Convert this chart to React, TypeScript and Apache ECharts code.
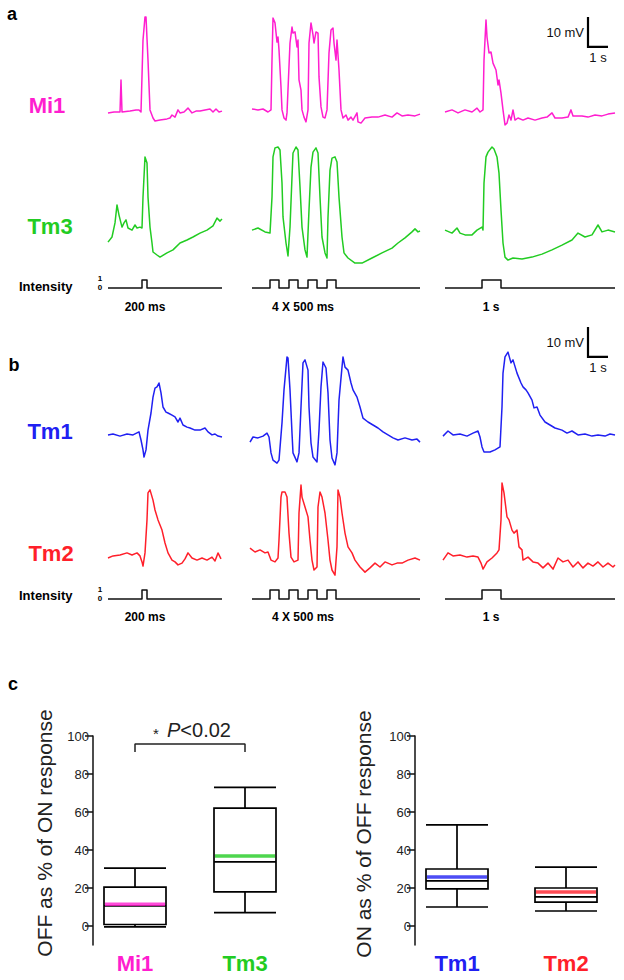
import { useEffect, useRef } from 'react';
import * as echarts from 'echarts';

// ---------- Panel a / b traces: [time (s), membrane potential (mV, relative)] ----------
const mi1_200ms = [[0,-0.3],[0.3,0],[0.6,0],[0.65,10.7],[0.7,0],[1.1,0.3],[1.4,0.7],[1.55,0.7],[1.65,0],[1.75,24],[1.85,31.7],[1.9,31.7],[2.0,17.3],[2.1,0.7],[2.25,-2],[2.35,-3],[2.6,-2.7],[2.95,-2.3],[3.1,-2],[3.2,-1],[3.35,-1.7],[3.5,0.7],[3.6,-0.3],[3.8,0],[4.0,1.3],[4.2,-0.3],[4.4,0.3],[4.6,0.3],[4.85,0.7],[5.1,1],[5.25,0],[5.4,1],[5.55,0],[5.7,0.3]];
const mi1_4x500 = [[0,1],[0.3,0.7],[0.55,1],[0.8,0],[0.95,0.7],[1.0,17.3],[1.05,31.3],[1.15,29.7],[1.25,23.3],[1.3,25],[1.35,20.7],[1.45,8.3],[1.5,0.7],[1.6,-2],[1.7,-2.7],[1.75,-0.3],[1.9,23],[2.0,28.3],[2.05,26.3],[2.15,26.7],[2.25,21.7],[2.3,24],[2.35,10.7],[2.45,7.3],[2.5,0.7],[2.6,-1.7],[2.7,-3.3],[2.8,0.7],[2.85,23],[2.95,29.7],[3.05,25.7],[3.1,23],[3.2,26.7],[3.3,26.3],[3.35,11.7],[3.45,1.7],[3.55,-1.7],[3.65,-2],[3.75,0.7],[3.85,19.7],[3.95,27.3],[4.05,28],[4.1,23],[4.2,17.3],[4.25,24],[4.35,14],[4.45,0.7],[4.55,-2],[4.7,-1],[4.8,-2.7],[4.95,-1.7],[5.05,-2.7],[5.25,-0.3],[5.3,-3.3],[5.45,-3.7],[5.65,-2],[6.0,-1.7],[6.3,-1.7],[6.65,-1],[7.0,-1.7],[7.25,-0.3],[7.5,-1.3],[7.8,-1],[8.15,-1.3],[8.4,-0.7]];
const mi1_1s = [[0,0],[0.35,0.7],[0.65,-0.3],[1.0,0.7],[1.35,0],[1.6,1.3],[1.75,0],[1.9,0.7],[1.95,17.3],[2.05,30.7],[2.1,25],[2.2,19.7],[2.3,20],[2.4,16.3],[2.55,14],[2.65,9],[2.7,10.7],[2.8,6.3],[2.9,0.7],[3.0,-4.3],[3.1,-3.7],[3.2,-1],[3.3,-2.7],[3.4,0.7],[3.5,-2.7],[3.65,-2],[3.9,-2.7],[4.15,-2],[4.5,-2.7],[4.85,-2],[5.1,-1.7],[5.35,-0.3],[5.5,-2],[5.85,-2],[6.15,-1.7],[6.3,0.7],[6.4,-1.3],[6.85,-1.3],[7.15,-1.7],[7.5,-1],[7.85,-1.3],[8.15,-0.7],[8.5,-0.3]];

const tm3_200ms = [[0,-4.7],[0.2,-3],[0.35,1.7],[0.45,7.7],[0.55,4.3],[0.7,0.3],[0.8,1.7],[0.9,2.7],[1.0,0],[1.2,-0.7],[1.35,1],[1.45,0],[1.6,0.3],[1.7,0],[1.75,10.3],[1.85,23.7],[1.95,21.7],[2.0,10.3],[2.1,0.3],[2.2,-5],[2.25,-8],[2.45,-9],[2.6,-9.7],[2.95,-8.3],[3.25,-7.3],[3.6,-5],[3.95,-4],[4.25,-3],[4.6,-1.7],[4.95,-0.7],[5.25,0.7],[5.45,3.3],[5.6,2.3],[5.7,3]];
const tm3_4x500 = [[0,-0.7],[0.3,0],[0.65,-1.3],[0.9,-1.7],[1.0,10.3],[1.05,23.7],[1.15,26.7],[1.3,27],[1.4,26],[1.5,15],[1.55,3.7],[1.7,-5],[1.8,-9.3],[1.9,0.3],[2.0,17],[2.05,25],[2.2,27],[2.3,26],[2.4,13.7],[2.5,0.3],[2.65,-7.3],[2.75,-9.7],[2.85,6],[2.95,20.3],[3.05,25.3],[3.2,26.7],[3.3,25],[3.4,10.3],[3.5,-3],[3.65,-8.3],[3.75,-10],[3.8,3.7],[3.9,19.3],[4.0,23.3],[4.15,23.7],[4.25,22],[4.35,10.3],[4.5,-3],[4.6,-8.3],[4.8,-10],[5.15,-11.7],[5.5,-11.7],[6.0,-10],[6.5,-8.3],[7.0,-6.7],[7.3,-5],[7.65,-3.3],[8.0,-1.3],[8.15,-0.3],[8.3,-1.3],[8.4,-1]];
const tm3_1s = [[0,-0.7],[0.35,-1.7],[0.6,0],[0.75,-1.7],[1.0,-2.3],[1.35,-2.3],[1.6,-0.7],[1.85,0.3],[1.9,-0.7],[1.95,15],[2.05,23.7],[2.15,25.3],[2.35,27],[2.45,26.3],[2.6,23.7],[2.7,18.3],[2.8,6],[2.9,-5],[3.0,-9.7],[3.15,-10.7],[3.4,-10],[3.85,-10.3],[4.35,-9.7],[4.85,-8.7],[5.35,-7.3],[5.85,-5.7],[6.35,-4],[6.65,-1.7],[7.0,-3],[7.35,-2.3],[7.65,1],[7.85,-1.3],[8.15,-0.7],[8.5,-1.3]];

const tm1_200ms = [[0,-0.3],[0.25,0],[0.6,-0.7],[0.95,0],[1.25,-0.3],[1.55,0.7],[1.65,-2],[1.75,-5.3],[1.8,-7.7],[1.9,-5.3],[2.0,1.3],[2.15,7],[2.25,12.3],[2.35,15.3],[2.45,15.7],[2.55,17],[2.65,13.7],[2.75,9],[2.9,7.3],[3.0,7],[3.2,6.3],[3.35,5.7],[3.5,4],[3.6,5.3],[3.75,3],[3.95,2.3],[4.1,2],[4.35,1.3],[4.6,1.3],[4.85,2],[5.0,0.7],[5.2,-0.3],[5.35,0],[5.5,-0.7],[5.7,-1]];
const tm1_4x500 = [[-0.1,-2.7],[0.05,-1],[0.3,-1.3],[0.55,-0.7],[0.75,0.3],[0.85,-1],[0.95,-6.3],[1.05,-8.7],[1.25,-9.7],[1.35,-8.7],[1.5,3.7],[1.6,14.7],[1.75,25.7],[1.8,25.3],[1.9,14.7],[2.0,0.3],[2.05,-6.3],[2.25,-9.3],[2.35,-6.3],[2.45,9],[2.55,23.7],[2.65,24.7],[2.8,21.3],[2.85,9],[2.95,-3],[3.05,-7.7],[3.25,-9.3],[3.35,1.3],[3.45,15.7],[3.55,24],[3.7,22],[3.8,13.7],[3.9,-2],[4.0,-8],[4.15,-10.3],[4.25,-6.3],[4.35,11.3],[4.5,22.3],[4.55,25.7],[4.65,22.3],[4.8,21.3],[4.95,17],[5.05,14.7],[5.25,12.3],[5.4,9],[5.55,5.3],[5.8,4],[6.05,3],[6.3,2],[6.55,0.7],[6.8,-0.3],[7.05,-1.3],[7.3,-2],[7.65,-1.3],[8.0,-2],[8.25,-1.7],[8.4,-2.7]];
const tm1_1s = [[-0.1,-0.7],[0.15,1],[0.4,-0.3],[0.75,0],[1.1,-0.7],[1.4,0.3],[1.65,1],[1.75,-1],[1.85,-4.3],[1.95,-6],[2.25,-6],[2.5,-5.3],[2.75,-4.3],[2.85,9],[2.9,20.3],[3.0,25.7],[3.15,27.3],[3.3,23.7],[3.4,24.7],[3.6,20.3],[3.8,17],[3.9,15.7],[4.05,14.7],[4.15,13.7],[4.35,11.3],[4.45,8.7],[4.6,9],[4.75,6.3],[5.0,4],[5.25,3],[5.5,2],[5.85,1.3],[6.1,0.3],[6.35,1],[6.65,-0.3],[7.0,0],[7.35,-0.7],[7.65,-0.3],[8.0,-0.7],[8.25,0],[8.5,-0.3]];

const tm2_200ms = [[0,-1],[0.25,-0.3],[0.6,0],[0.95,0.7],[1.2,0],[1.45,0.7],[1.6,-0.3],[1.7,-2.3],[1.75,-3.7],[1.85,0.7],[1.95,11.7],[2.0,20.7],[2.1,21.7],[2.25,18.3],[2.35,15],[2.5,11.7],[2.7,8.3],[2.85,4],[3.0,0.7],[3.2,-1.7],[3.35,-2.3],[3.5,-3.3],[3.7,-2.7],[3.85,-1.3],[4.0,0.7],[4.2,-1],[4.45,-1.7],[4.7,-1],[4.95,-1.7],[5.2,-0.7],[5.35,-2],[5.5,0.7],[5.65,-1.3]];
const tm2_4x500 = [[-0.1,2.3],[0.15,1],[0.4,1.7],[0.65,0.7],[0.8,1],[0.95,-1.7],[1.15,-2.3],[1.3,-1],[1.35,5],[1.45,19.3],[1.5,21],[1.65,21],[1.75,19.3],[1.85,7.3],[1.95,-0.7],[2.1,-2.3],[2.3,-1.7],[2.35,14],[2.45,23.3],[2.5,19.3],[2.65,16],[2.8,12.7],[2.9,5],[3.0,-1.7],[3.1,-5],[3.25,-4],[3.3,16],[3.4,21],[3.5,19.3],[3.65,14],[3.8,5],[3.9,-1.7],[4.0,-5],[4.15,-6.7],[4.25,2.7],[4.3,21.7],[4.4,19.3],[4.5,14],[4.65,7.3],[4.8,2.7],[5.0,0.7],[5.15,-1.7],[5.4,-4],[5.65,-5.7],[5.9,-4.3],[6.15,-2.7],[6.4,-4],[6.65,-2.3],[7.0,-3.3],[7.25,-2.7],[7.5,-2.7],[7.8,-1.7],[8.15,-1],[8.4,-1.7]];
const tm2_1s = [[-0.1,-1.7],[0.15,0.7],[0.4,-0.3],[0.75,0],[1.1,-0.7],[1.4,-0.3],[1.65,-0.7],[1.8,-2.7],[1.9,-4.7],[2.1,-2.3],[2.35,-1],[2.6,0.7],[2.7,1.7],[2.8,11.7],[2.85,24],[2.95,20.7],[3.1,12.7],[3.2,11.7],[3.35,8.3],[3.45,7.3],[3.6,8.3],[3.7,2.7],[3.85,1.7],[3.9,-1.7],[4.15,-0.7],[4.4,-2.3],[4.65,-2.7],[4.9,-4.3],[5.15,-2.7],[5.4,-4.7],[5.65,-1],[5.9,-2.3],[6.15,-1.7],[6.4,-4],[6.65,-2.3],[6.9,-4.3],[7.15,-2.7],[7.4,-3.7],[7.65,-2.3],[7.9,-4],[8.15,-2.7],[8.4,-4],[8.5,-3.3]];

// Light intensity (0/1) step traces
const stim_200ms = [[0,0],[1.7,0],[1.7,1],[1.95,1],[1.95,0],[5.7,0]];
const stim_4x500 = [[0,0],[0.9,0],[0.9,1],[1.35,1],[1.35,0],[1.85,0],[1.85,1],[2.3,1],[2.3,0],[2.8,0],[2.8,1],[3.25,1],[3.25,0],[3.75,0],[3.75,1],[4.2,1],[4.2,0],[8.4,0]];
const stim_1s = [[0,0],[1.85,0],[1.85,1],[2.8,1],[2.8,0],[8.5,0]];

const conditionLabels = ['200 ms', '4 X 500 ms', '1 s'];
const scaleBarMv = 10;
const scaleBarS = 1;

// ---------- Panel c: box plots [min, Q1, median, Q3, max] and means ----------
const offCells = ['Mi1', 'Tm3'];
const offBoxes = [[-0.5, 0.8, 10.6, 20.5, 30.5], [7, 18, 33.7, 62, 73]];
const offMeans = [11.5, 36.8];
const onCells = ['Tm1', 'Tm2'];
const onBoxes = [[10, 19.5, 23.7, 30, 53.2], [7.9, 12.6, 15.3, 20, 31]];
const onMeans = [25.8, 17.9];
const yTicks = [0, 20, 40, 60, 80, 100];
const pLabel = 'P<0.02';

const COLORS: Record<string, string> = {
  Mi1: '#ff1ecf',
  Tm3: '#22cc22',
  Tm1: '#2020f2',
  Tm2: '#ff1f2a',
};
const FONT = '"Liberation Sans", Arial, Helvetica, sans-serif';

function buildOption() {
  const grids: any[] = [];
  const xAxes: any[] = [];
  const yAxes: any[] = [];
  const series: any[] = [];
  const addGrid = (g: any, x: any, y: any) => {
    const i = grids.length;
    grids.push({ ...g, containLabel: false });
    xAxes.push({ gridIndex: i, ...x });
    yAxes.push({ gridIndex: i, ...y });
    return i;
  };

  const PX_S = 20;
  const cols = [
    { x0: 108, tmin: -0.2, tmax: 6.0 },
    { x0: 252, tmin: -0.2, tmax: 8.6 },
    { x0: 445, tmin: -0.2, tmax: 8.6 },
  ];
  const rows = [
    { name: 'Mi1', base: 112, pxu: 3, vmin: -6, vmax: 34, color: COLORS.Mi1, data: [mi1_200ms, mi1_4x500, mi1_1s], w: 1.5 },
    { name: 'Tm3', base: 228, pxu: 3, vmin: -14, vmax: 30, color: COLORS.Tm3, data: [tm3_200ms, tm3_4x500, tm3_1s], w: 1.5 },
    { name: 'stimA', base: 288, pxu: 8, vmin: -0.2, vmax: 1.2, color: '#111', data: [stim_200ms, stim_4x500, stim_1s], w: 1.5 },
    { name: 'Tm1', base: 434, pxu: 3, vmin: -12, vmax: 37, color: COLORS.Tm1, data: [tm1_200ms, tm1_4x500, tm1_1s], w: 1.5 },
    { name: 'Tm2', base: 555, pxu: 3, vmin: -8, vmax: 26, color: COLORS.Tm2, data: [tm2_200ms, tm2_4x500, tm2_1s], w: 1.5 },
    { name: 'stimB', base: 599, pxu: 9, vmin: -0.2, vmax: 1.2, color: '#111', data: [stim_200ms, stim_4x500, stim_1s], w: 1.5 },
  ];

  rows.forEach((r) => {
    cols.forEach((c, ci) => {
      const gi = addGrid(
        {
          left: c.x0 + c.tmin * PX_S,
          width: (c.tmax - c.tmin) * PX_S,
          top: r.base - r.vmax * r.pxu,
          height: (r.vmax - r.vmin) * r.pxu,
        },
        { type: 'value', min: c.tmin, max: c.tmax, show: false },
        { type: 'value', min: r.vmin, max: r.vmax, show: false }
      );
      series.push({
        type: 'line',
        xAxisIndex: gi,
        yAxisIndex: gi,
        data: r.data[ci],
        showSymbol: false,
        clip: false,
        silent: true,
        lineStyle: { color: r.color, width: r.w, join: 'round' },
      });
      // scale bar in third column, top trace of each panel
      if (ci === 2 && (r.name === 'Mi1' || r.name === 'Tm1')) {
        const t0 = 7.15;
        const v0 = r.name === 'Mi1' ? 21.7 : 25.7;
        series.push({
          type: 'line',
          xAxisIndex: gi,
          yAxisIndex: gi,
          data: [[t0, v0 + scaleBarMv], [t0, v0], [t0 + scaleBarS, v0]],
          showSymbol: false,
          clip: false,
          silent: true,
          lineStyle: { color: '#000', width: 2.2, join: 'miter', cap: 'butt' },
        });
      }
    });
  });

  // ---------- Panel c ----------
  const boxTop = 736;
  const boxH = 209;
  const yMin = -10;
  const yMax = 100;
  const makeAxisGrid = (left: number) =>
    addGrid(
      { left, top: boxTop, width: 10, height: boxH },
      { type: 'value', show: false },
      {
        type: 'value',
        min: yMin,
        max: yMax,
        axisLine: { show: true, lineStyle: { color: '#111', width: 1.5 } },
        axisTick: { show: true, length: 8, customValues: yTicks, lineStyle: { color: '#111', width: 1.5 } },
        axisLabel: { show: true, customValues: yTicks, fontSize: 13, color: '#222', margin: 4, fontFamily: FONT },
        splitLine: { show: false },
      }
    );
  const makeBoxGrid = (left: number, width: number, cats: string[]) =>
    addGrid(
      { left, top: boxTop, width, height: boxH },
      {
        type: 'category',
        data: cats,
        axisLine: { show: false },
        axisTick: { show: false },
        axisLabel: {
          margin: 7,
          formatter: (v: string) => `{${v}|${v}}`,
          rich: Object.fromEntries(
            cats.map((c) => [c, { color: COLORS[c], fontSize: 22, fontWeight: 'bold', fontFamily: FONT }])
          ),
        },
      },
      { type: 'value', min: yMin, max: yMax, show: false }
    );

  makeAxisGrid(93);
  const gL = makeBoxGrid(80, 220, offCells);
  makeAxisGrid(415);
  const gR = makeBoxGrid(402.5, 218, onCells);

  const addBoxes = (gi: number, cats: string[], boxes: number[][], means: number[]) => {
    series.push({
      type: 'boxplot',
      xAxisIndex: gi,
      yAxisIndex: gi,
      data: boxes,
      boxWidth: [62, 62],
      silent: true,
      itemStyle: { color: '#fff', borderColor: '#000', borderWidth: 1.7 },
    });
    series.push({
      type: 'scatter',
      xAxisIndex: gi,
      yAxisIndex: gi,
      silent: true,
      symbol: 'rect',
      symbolSize: [60, 3.5],
      z: 5,
      data: means.map((m, i) => ({ value: [i, m], itemStyle: { color: COLORS[cats[i]] } })),
    });
  };
  addBoxes(gL, offCells, offBoxes, offMeans);
  addBoxes(gR, onCells, onBoxes, onMeans);

  // significance bracket
  series.push({
    type: 'line',
    xAxisIndex: gL,
    yAxisIndex: gL,
    data: [[0, 91.6], [0, 95.8], [1, 95.8], [1, 91.6]],
    showSymbol: false,
    clip: false,
    silent: true,
    lineStyle: { color: '#222', width: 1.5 },
  });

  const txt = (x: number, y: number, text: string, style: any, extra: any = {}) => ({
    type: 'text',
    x,
    y,
    silent: true,
    ...extra,
    style: {
      text,
      fontFamily: FONT,
      fill: '#000',
      textAlign: 'center',
      align: 'center',
      textVerticalAlign: 'middle',
      verticalAlign: 'middle',
      ...style,
    },
  });

  const graphics: any[] = [
    txt(12, 14, 'a', { fontSize: 18, fontWeight: 'bold' }),
    txt(14, 365, 'b', { fontSize: 18, fontWeight: 'bold' }),
    txt(13, 684, 'c', { fontSize: 18, fontWeight: 'bold' }),
    txt(47, 105, 'Mi1', { fontSize: 22, fontWeight: 'bold', fill: COLORS.Mi1 }),
    txt(50, 226, 'Tm3', { fontSize: 22, fontWeight: 'bold', fill: COLORS.Tm3 }),
    txt(50, 431, 'Tm1', { fontSize: 22, fontWeight: 'bold', fill: COLORS.Tm1 }),
    txt(51, 553, 'Tm2', { fontSize: 22, fontWeight: 'bold', fill: COLORS.Tm2 }),
    txt(19, 286, 'Intensity', { fontSize: 13, fontWeight: 'bold', textAlign: 'left', align: 'left' }),
    txt(19, 595, 'Intensity', { fontSize: 13, fontWeight: 'bold', textAlign: 'left', align: 'left' }),
    txt(100, 278, '1', { fontSize: 8, fontWeight: 'bold' }),
    txt(100, 287, '0', { fontSize: 8, fontWeight: 'bold' }),
    txt(100, 589, '1', { fontSize: 8, fontWeight: 'bold' }),
    txt(100, 598, '0', { fontSize: 8, fontWeight: 'bold' }),
    txt(584, 32, '10 mV', { fontSize: 13, textAlign: 'right', align: 'right', fill: '#111' }),
    txt(598, 57, '1 s', { fontSize: 13, fill: '#111' }),
    txt(584, 342, '10 mV', { fontSize: 13, textAlign: 'right', align: 'right', fill: '#111' }),
    txt(598, 367, '1 s', { fontSize: 13, fill: '#111' }),
    txt(156, 733, '*', { fontSize: 15, fill: '#222' }),
    {
      type: 'text',
      x: 167,
      y: 730,
      silent: true,
      style: {
        text: `{p|${pLabel.slice(0, 1)}}{n|${pLabel.slice(1)}}`,
        textAlign: 'left',
        align: 'left',
        textVerticalAlign: 'middle',
        verticalAlign: 'middle',
        rich: {
          p: { fontSize: 20, fontStyle: 'italic', fontFamily: FONT, fill: '#222', color: '#222' },
          n: { fontSize: 20, fontFamily: FONT, fill: '#222', color: '#222' },
        },
      },
    },
    txt(44, 833, 'OFF as % of ON response', { fontSize: 21, fill: '#222' }, { rotation: Math.PI / 2 }),
    txt(363, 834, 'ON as % of OFF response', { fontSize: 21, fill: '#222' }, { rotation: Math.PI / 2 }),
  ];
  const condX = [145, 303, 491];
  condX.forEach((x, i) => {
    graphics.push(txt(x, 307, conditionLabels[i], { fontSize: 12, fontWeight: 'bold' }));
    graphics.push(txt(x, 617, conditionLabels[i], { fontSize: 12, fontWeight: 'bold' }));
  });

  return {
    animation: false,
    backgroundColor: '#fff',
    grid: grids,
    xAxis: xAxes,
    yAxis: yAxes,
    series,
    graphic: graphics,
  };
}

export default function App() {
  const ref = useRef<HTMLDivElement>(null);
  useEffect(() => {
    if (!ref.current) return;
    const chart = echarts.init(ref.current, undefined, { renderer: 'svg' });
    chart.setOption(buildOption() as any);
    return () => chart.dispose();
  }, []);
  return (
    <div
      ref={ref}
      style={{ position: 'absolute', left: 0, top: 0, width: 624, height: 980, background: '#fff' }}
    />
  );
}
